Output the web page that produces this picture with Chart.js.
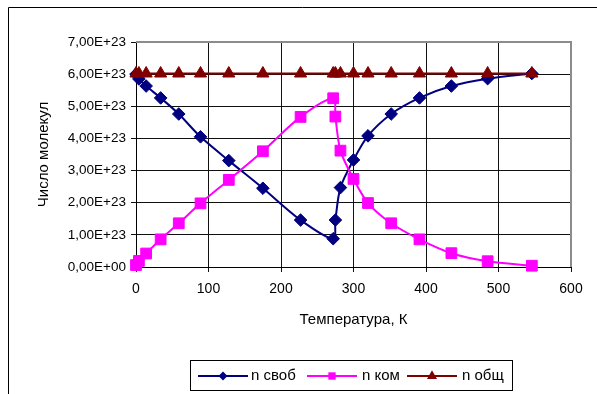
<!DOCTYPE html>
<html>
<head>
<meta charset="utf-8">
<script src="https://cdn.jsdelivr.net/npm/chart.js@4/dist/chart.umd.min.js"></script>
<style>
  html, body { margin: 0; padding: 0; background: #fff; }
  #c { display: block; }
</style>
</head>
<body>
<canvas id="c" width="597" height="394"></canvas>
<script>
// ---- data ----
const temperature = [0, 4, 14, 34, 59, 89, 128, 175, 227, 272, 275, 282, 300, 320, 352, 391, 435, 485, 546];
const nFree = [6.00e23, 5.85e23, 5.63e23, 5.26e23, 4.76e23, 4.05e23, 3.31e23, 2.45e23, 1.46e23, 0.88e23, 1.46e23, 2.47e23, 3.33e23, 4.08e23, 4.76e23, 5.26e23, 5.63e23, 5.86e23, 6.02e23];
const nKom  = [0.06e23, 0.19e23, 0.42e23, 0.86e23, 1.36e23, 1.98e23, 2.71e23, 3.60e23, 4.67e23, 5.25e23, 4.68e23, 3.62e23, 2.74e23, 1.99e23, 1.36e23, 0.86e23, 0.43e23, 0.18e23, 0.04e23];
const nTot  = [6.02e23, 6.02e23, 6.02e23, 6.02e23, 6.02e23, 6.02e23, 6.02e23, 6.02e23, 6.02e23, 6.02e23, 6.02e23, 6.02e23, 6.02e23, 6.02e23, 6.02e23, 6.02e23, 6.02e23, 6.02e23, 6.02e23];
const seriesLabels = ['n своб', 'n ком', 'n общ'];
const xTitle = 'Температура, К';
const yTitle = 'Число молекул';
const xMin = 0, xMax = 600, xStep = 100;
const yMin = 0, yMax = 7e23, yStep = 1e23;

const FONT = 'Liberation Sans, Arial, sans-serif';

function pts(xs, ys) { return xs.map((x, i) => ({ x: x, y: ys[i] })); }

function sci(v) {
  if (Math.abs(v) < 1e-300) return '0,00E+00';
  let e = Math.floor(Math.log10(Math.abs(v)));
  let m = v / Math.pow(10, e);
  if (Math.abs(m) >= 9.995) { m /= 10; e += 1; }
  if (Math.abs(m) < 0.9995) { m *= 10; e -= 1; }
  const es = (e < 0 ? '-' : '+') + String(Math.abs(e)).padStart(2, '0');
  return m.toFixed(2).replace('.', ',') + 'E' + es;
}

function drawMarker(ctx, style, x, y, r) {
  ctx.beginPath();
  if (style === 'rectRot') {
    ctx.moveTo(x - r, y); ctx.lineTo(x, y - r); ctx.lineTo(x + r, y); ctx.lineTo(x, y + r);
  } else if (style === 'rect') {
    const s = r * Math.SQRT1_2;
    ctx.rect(x - s, y - s, 2 * s, 2 * s);
  } else {
    ctx.moveTo(x, y - r);
    ctx.lineTo(x + r * Math.sin(2 * Math.PI / 3), y - r * Math.cos(2 * Math.PI / 3));
    ctx.lineTo(x + r * Math.sin(4 * Math.PI / 3), y - r * Math.cos(4 * Math.PI / 3));
  }
  ctx.closePath();
  ctx.fill();
}

const decor = {
  id: 'decor',
  beforeDraw(chart) {
    const ctx = chart.ctx;
    ctx.save();
    ctx.fillStyle = '#fff';
    ctx.fillRect(0, 0, chart.width, chart.height);
    ctx.strokeStyle = '#000';
    ctx.lineWidth = 1;
    ctx.beginPath();
    ctx.moveTo(8.5, chart.height);
    ctx.lineTo(8.5, 7.5);
    ctx.lineTo(chart.width, 7.5);
    ctx.stroke();
    ctx.restore();
  },
  beforeDatasetsDraw(chart) {
    const a = chart.chartArea;
    const ctx = chart.ctx;
    ctx.save();
    ctx.strokeStyle = '#8c8c8c';
    ctx.lineWidth = 2;
    ctx.beginPath();
    ctx.moveTo(a.left, a.top);
    ctx.lineTo(a.right, a.top);
    ctx.lineTo(a.right, a.bottom);
    ctx.stroke();
    ctx.restore();
  },
  afterDraw(chart) {
    const ctx = chart.ctx;
    ctx.save();
    // legend box
    ctx.fillStyle = '#fff';
    ctx.fillRect(190.5, 360.5, 322, 30);
    ctx.strokeStyle = '#000';
    ctx.lineWidth = 1;
    ctx.strokeRect(190.5, 360.5, 322, 30);
    const slots = [{ x0: 198, tx: 251 }, { x0: 307, tx: 362 }, { x0: 407, tx: 462 }];
    const legR = [4.5, 5.2, 5.8];
    const cy = 376;
    chart.data.datasets.forEach((ds, i) => {
      const s = slots[i];
      ctx.strokeStyle = ds.borderColor;
      ctx.lineWidth = 2;
      ctx.beginPath();
      ctx.moveTo(s.x0, cy); ctx.lineTo(s.x0 + 50, cy);
      ctx.stroke();
      ctx.fillStyle = ds.pointBackgroundColor;
      drawMarker(ctx, ds.pointStyle, s.x0 + 25, cy, legR[i]);
      ctx.fillStyle = '#000';
      ctx.font = '15px ' + FONT;
      ctx.textBaseline = 'middle';
      ctx.textAlign = 'left';
      ctx.fillText(ds.label, s.tx, cy);
    });
    ctx.restore();
  }
};

new Chart(document.getElementById('c'), {
  type: 'line',
  data: {
    datasets: [
      {
        label: seriesLabels[0], data: pts(temperature, nFree),
        borderColor: '#000080', backgroundColor: '#000080',
        pointBackgroundColor: '#000080', pointBorderColor: '#000080',
        pointStyle: 'rectRot', pointRadius: 6.3, borderWidth: 2, pointBorderWidth: 1,
        tension: 0.3, order: 3, clip: false
      },
      {
        label: seriesLabels[1], data: pts(temperature, nKom),
        borderColor: '#ff00ff', backgroundColor: '#ff00ff',
        pointBackgroundColor: '#ff00ff', pointBorderColor: '#ff00ff',
        pointStyle: 'rect', pointRadius: 7.6, borderWidth: 2, pointBorderWidth: 1,
        tension: 0.3, order: 2, clip: false
      },
      {
        label: seriesLabels[2], data: pts(temperature, nTot),
        borderColor: '#800000', backgroundColor: '#800000',
        pointBackgroundColor: '#800000', pointBorderColor: '#800000',
        pointStyle: 'triangle', pointRadius: 7, borderWidth: 2, pointBorderWidth: 1,
        tension: 0.3, order: 1, clip: false
      }
    ]
  },
  options: {
    responsive: false,
    devicePixelRatio: 1,
    animation: false,
    events: [],
    layout: { padding: { left: 0, top: 42, right: 26, bottom: 61 } },
    plugins: { legend: { display: false }, tooltip: { enabled: false } },
    scales: {
      x: {
        type: 'linear', min: xMin, max: xMax,
        afterFit(s) { s.height = 66; },
        ticks: { stepSize: xStep, color: '#000', padding: 9, font: { family: FONT, size: 14 }, maxRotation: 0 },
        grid: { color: '#111', lineWidth: 1, tickLength: 5, drawTicks: true },
        border: { display: true, color: '#000', width: 1 },
        title: { display: true, text: xTitle, color: '#000', font: { family: FONT, size: 15 }, padding: { top: 4, bottom: 4 } }
      },
      y: {
        type: 'linear', min: yMin, max: yMax,
        afterFit(s) { s.width = 136; },
        ticks: { stepSize: yStep, color: '#000', padding: 5, font: { family: FONT, size: 13.5 }, callback: (v) => sci(v) },
        grid: { color: '#111', lineWidth: 1, tickLength: 5, drawTicks: true },
        border: { display: true, color: '#000', width: 1 },
        title: { display: true, text: yTitle, color: '#000', font: { family: FONT, size: 15 }, padding: { top: 35, bottom: 4 } }
      }
    }
  },
  plugins: [decor]
});
</script>
</body>
</html>
